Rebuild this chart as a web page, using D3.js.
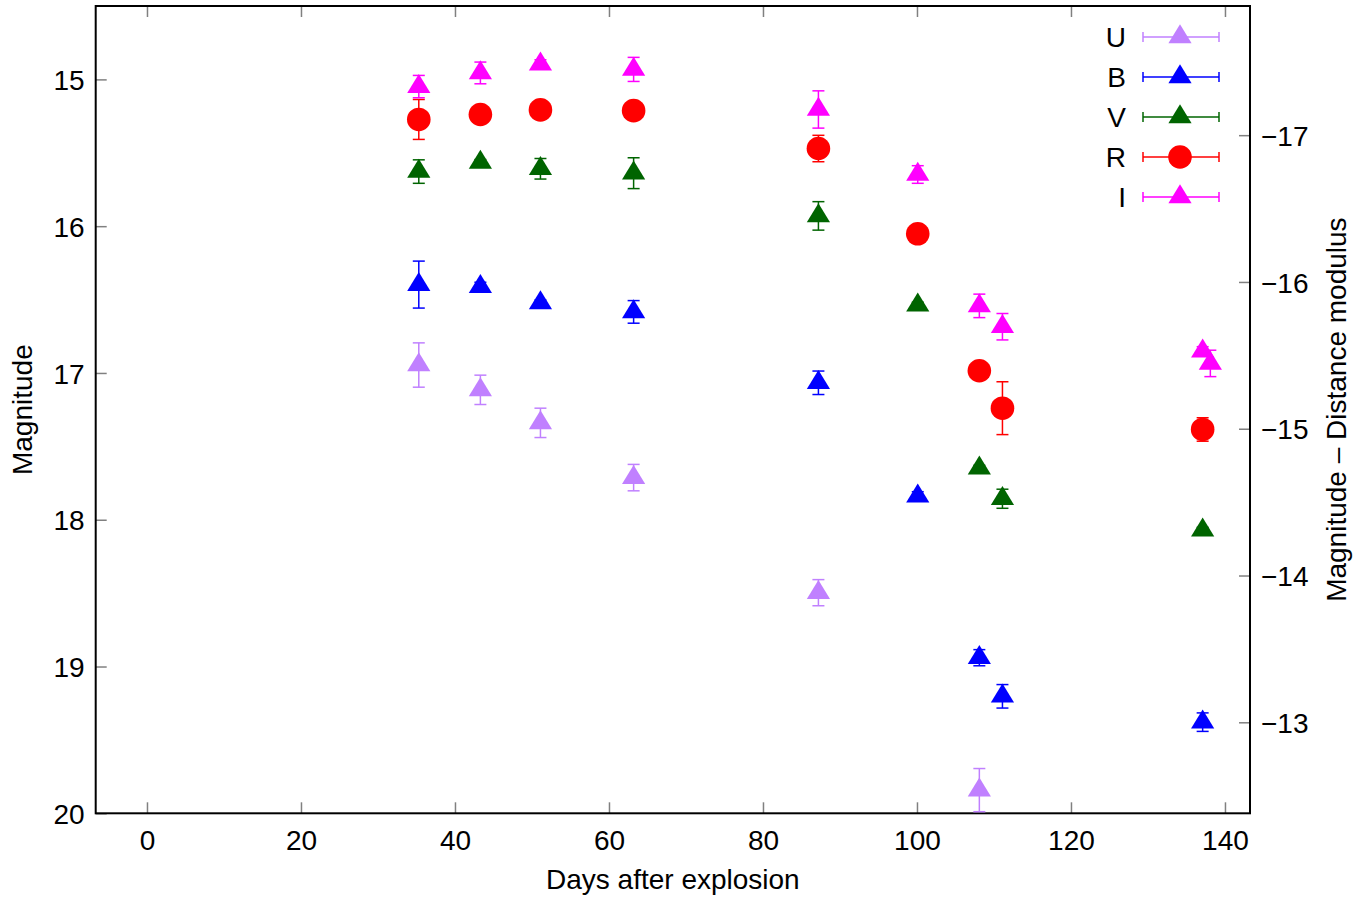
<!DOCTYPE html>
<html><head><meta charset="utf-8">
<script src="https://cdn.jsdelivr.net/npm/d3@7"></script>
<style>
html,body{margin:0;padding:0;background:#fff;}
text{font-family:"Liberation Sans",Arial,Helvetica,sans-serif;}
</style></head>
<body><svg id="chart" width="1368" height="899"></svg>
<script>
// ---- data ----
const bands = ["U","B","V","R","I"];
const bandColors = ["#c080ff","#0000ff","#006400","#ff0000","#ff00ff"];
const bandShapes = ["triangle","triangle","triangle","circle","triangle"];

const uDays = [35.3, 43.3, 51.1, 63.2, 87.2, 108.1];
const uMag  = [16.946, 17.115, 17.34, 17.713, 18.497, 19.842];
const uErr  = [0.151, 0.10, 0.10, 0.09, 0.089, 0.147];

const bDays = [35.3, 43.3, 51.1, 63.2, 87.2, 100.1, 108.1, 111.1, 137.1];
const bMag  = [16.398, 16.412, 16.523, 16.584, 17.067, 17.839, 18.94, 19.203, 19.379];
const bErr  = [0.16, 0.03, 0.02, 0.077, 0.08, 0.03, 0.055, 0.08, 0.063];

const vDays = [35.3, 43.3, 51.1, 63.2, 87.2, 100.1, 108.1, 111.1, 137.1];
const vMag  = [15.628, 15.566, 15.609, 15.639, 15.93, 16.538, 17.649, 17.857, 18.072];
const vErr  = [0.08, 0.02, 0.07, 0.105, 0.097, 0.02, 0.02, 0.065, 0.02];

const rDays = [35.3, 43.3, 51.1, 63.2, 87.2, 100.1, 108.1, 111.1, 137.1];
const rMag  = [15.273, 15.239, 15.208, 15.213, 15.471, 16.052, 16.985, 17.24, 17.385];
const rErr  = [0.136, 0.03, 0.03, 0.03, 0.09, 0.03, 0.03, 0.18, 0.08];

const iDays = [35.3, 43.3, 51.1, 63.2, 87.2, 100.1, 108.1, 111.1, 137.1, 138.1];
const iMag  = [15.049, 14.956, 14.896, 14.932, 15.205, 15.648, 16.543, 16.685, 16.851, 16.935];
const iErr  = [0.076, 0.074, 0.03, 0.082, 0.127, 0.06, 0.08, 0.09, 0.03, 0.09];

const xTicks = [0, 20, 40, 60, 80, 100, 120, 140];
const yTicks = [15, 16, 17, 18, 19, 20];
const y2Ticks = [-17, -16, -15, -14, -13];
const distanceModulus = 32.38;

const xTitle = "Days after explosion";
const yTitle = "Magnitude";
const y2Title = "Magnitude \u2013 Distance modulus";

// ---- build ----
const series = [
  {days:uDays, mag:uMag, err:uErr},
  {days:bDays, mag:bMag, err:bErr},
  {days:vDays, mag:vMag, err:vErr},
  {days:rDays, mag:rMag, err:rErr},
  {days:iDays, mag:iMag, err:iErr}
].map((s,k)=>({name:bands[k], color:bandColors[k], shape:bandShapes[k],
  pts:s.days.map((d,i)=>({d:d, m:s.mag[i], e:s.err[i]}))}));

const L = 95.7, R = 1250, T = 6, B = 813.3;
const x = d3.scaleLinear().domain([-6.66, 143.25]).range([L, R]);
const y = d3.scaleLinear().domain([14.5, 20]).range([T, B]);
const y2 = d3.scaleLinear().domain([14.5 - distanceModulus, 20 - distanceModulus]).range([T, B]);

const svg = d3.select("#chart");
const FS = 28;
const tickColor = "#808080";
const TL = 11;

// triangle centred on centroid
const triPath = "M0,-12.7L11.6,6.3L-11.6,6.3Z";
function drawMarker(g, shape, color){
  if(shape==="circle") g.append("circle").attr("r",11.8).attr("fill",color);
  else g.append("path").attr("d",triPath).attr("fill",color);
}

const fmt = d3.format("d");
// axes with inward ticks
const gx = svg.append("g").attr("transform",`translate(0,${B})`)
  .call(d3.axisBottom(x).tickValues(xTicks).tickSizeInner(-TL).tickSizeOuter(0).tickPadding(17).tickFormat(fmt));
const gxTop = svg.append("g").attr("transform",`translate(0,${T})`)
  .call(d3.axisTop(x).tickValues(xTicks).tickSizeInner(-TL).tickSizeOuter(0).tickFormat(""));
const gy = svg.append("g").attr("transform",`translate(${L},0)`)
  .call(d3.axisLeft(y).tickValues(yTicks).tickSizeInner(-TL).tickSizeOuter(0).tickPadding(11).tickFormat(fmt));
const gy2 = svg.append("g").attr("transform",`translate(${R},0)`)
  .call(d3.axisRight(y2).tickValues(y2Ticks).tickSizeInner(-TL).tickSizeOuter(0).tickPadding(11)
    .tickFormat(d=>fmt(d).replace("-","\u2212")));
[gx,gxTop,gy,gy2].forEach(g=>{
  g.select(".domain").remove();
  g.selectAll(".tick line").attr("stroke",tickColor).attr("stroke-width",1.5);
  g.selectAll(".tick text").attr("fill","#000").style("font-size",FS+"px")
   .style("font-family",'"Liberation Sans",Arial,sans-serif');
});
gx.selectAll(".tick text").attr("dy","0.71em");
gy.selectAll(".tick text").attr("dy","0.36em");
gy2.selectAll(".tick text").attr("dy","0.36em");

// border
svg.append("rect").attr("x",L).attr("y",T).attr("width",R-L).attr("height",B-T)
  .attr("fill","none").attr("stroke","#000").attr("stroke-width",2);

// titles
svg.append("text").attr("x",(L+R)/2).attr("y",889).attr("text-anchor","middle")
  .style("font-size",FS+"px").text(xTitle);
svg.append("text").attr("transform",`translate(32,${(T+B)/2}) rotate(-90)`)
  .attr("text-anchor","middle").style("font-size",FS+"px").text(yTitle);
svg.append("text").attr("transform",`translate(1346,${(T+B)/2}) rotate(-90)`)
  .attr("text-anchor","middle").style("font-size",FS+"px").text(y2Title);

// data
const plot = svg.append("g");
const cap = 6;
series.forEach(s=>{
  const g = plot.append("g");
  s.pts.forEach(p=>{
    const cx = x(p.d), y0 = y(p.m - p.e), y1 = y(p.m + p.e);
    g.append("line").attr("x1",cx).attr("x2",cx).attr("y1",y0).attr("y2",y1)
      .attr("stroke",s.color).attr("stroke-width",1.5);
    [y0,y1].forEach(yy=>g.append("line").attr("x1",cx-cap).attr("x2",cx+cap)
      .attr("y1",yy).attr("y2",yy).attr("stroke",s.color).attr("stroke-width",1.5));
    const m = g.append("g").attr("transform",`translate(${cx},${y(p.m)})`);
    drawMarker(m, s.shape, s.color);
  });
});

// legend
const leg = svg.append("g");
series.forEach((s,k)=>{
  const ly = 37 + k*40;
  const g = leg.append("g").attr("transform",`translate(0,${ly})`);
  g.append("text").attr("x",1126).attr("y",0).attr("dy","0.36em").attr("text-anchor","end")
    .style("font-size",FS+"px").text(s.name);
  g.append("line").attr("x1",1143).attr("x2",1219).attr("y1",0).attr("y2",0)
    .attr("stroke",s.color).attr("stroke-width",1.5);
  [1143,1219].forEach(xx=>g.append("line").attr("x1",xx).attr("x2",xx).attr("y1",-5).attr("y2",5)
    .attr("stroke",s.color).attr("stroke-width",1.5));
  const m = g.append("g").attr("transform","translate(1180,0)");
  drawMarker(m, s.shape, s.color);
});
</script>
</body></html>
